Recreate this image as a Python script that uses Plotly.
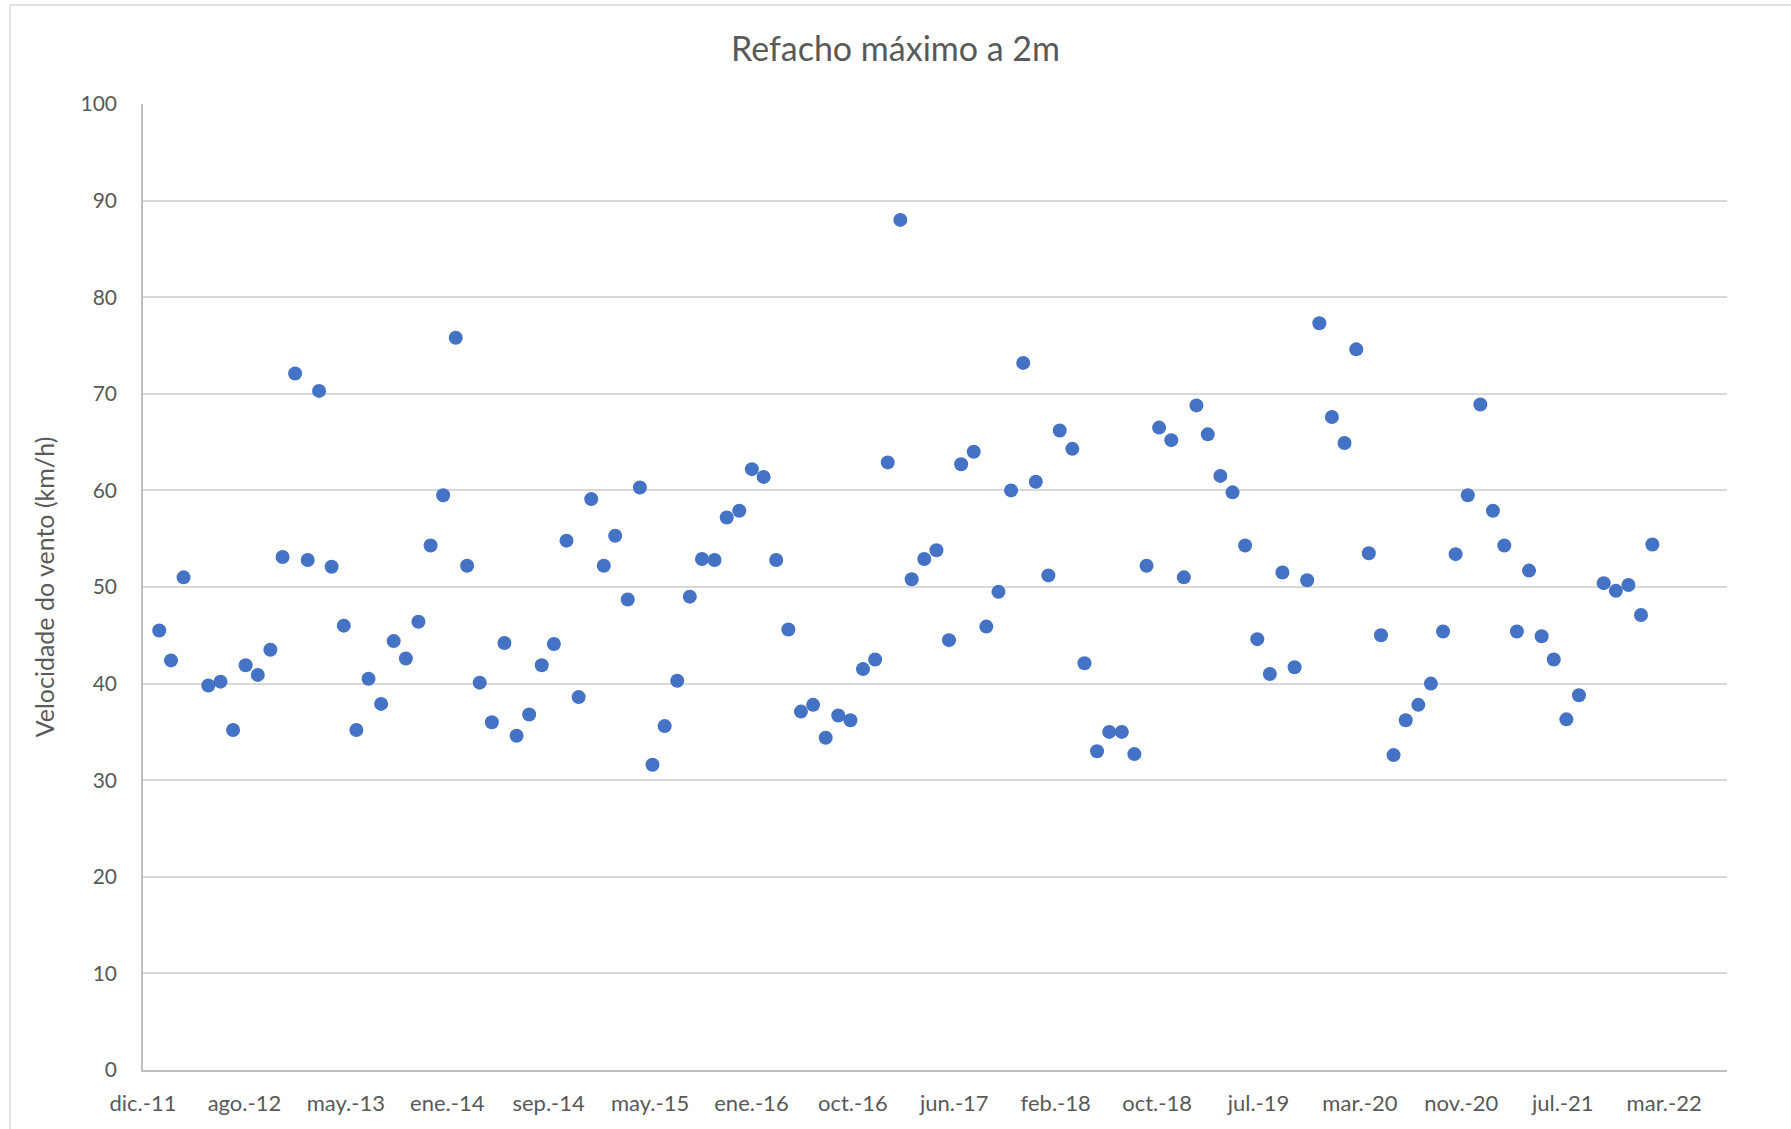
import pandas as pd
import plotly.graph_objects as go

# --- data -------------------------------------------------------------
title_text = "Refacho máximo a 2m"
y_title = "Velocidade do vento (km/h)"

first_month = "2012-01-01"
last_month = "2022-02-01"
missing_months = ["2012-04", "2021-09"]

wind_gust = [
    45.5, 42.4, 51.0, 39.8, 40.2, 35.2, 41.9, 40.9, 43.5, 53.1,
    72.1, 52.8, 70.3, 52.1, 46.0, 35.2, 40.5, 37.9, 44.4, 42.6,
    46.4, 54.3, 59.5, 75.8, 52.2, 40.1, 36.0, 44.2, 34.6, 36.8,
    41.9, 44.1, 54.8, 38.6, 59.1, 52.2, 55.3, 48.7, 60.3, 31.6,
    35.6, 40.3, 49.0, 52.9, 52.8, 57.2, 57.9, 62.2, 61.4, 52.8,
    45.6, 37.1, 37.8, 34.4, 36.7, 36.2, 41.5, 42.5, 62.9, 88.0,
    50.8, 52.9, 53.8, 44.5, 62.7, 64.0, 45.9, 49.5, 60.0, 73.2,
    60.9, 51.2, 66.2, 64.3, 42.1, 33.0, 35.0, 35.0, 32.7, 52.2,
    66.5, 65.2, 51.0, 68.8, 65.8, 61.5, 59.8, 54.3, 44.6, 41.0,
    51.5, 41.7, 50.7, 77.3, 67.6, 64.9, 74.6, 53.5, 45.0, 32.6,
    36.2, 37.8, 40.0, 45.4, 53.4, 59.5, 68.9, 57.9, 54.3, 45.4,
    51.7, 44.9, 42.5, 36.3, 38.8, 50.4, 49.6, 50.2, 47.1, 54.4,
]

tick_labels = ["dic.-11", "ago.-12", "may.-13", "ene.-14", "sep.-14", "may.-15",
               "ene.-16", "oct.-16", "jun.-17", "feb.-18", "oct.-18", "jul.-19",
               "mar.-20", "nov.-20", "jul.-21", "mar.-22"]
y_ticks = [0, 10, 20, 30, 40, 50, 60, 70, 80, 90, 100]

axis_start = "2011-12-22"
tick_step_days = 250
axis_span_days = 3905

# --- build x positions (month-end dates) -------------------------------
months = pd.date_range(first_month, last_month, freq="MS")
months = [m for m in months if m.strftime("%Y-%m") not in missing_months]
dates = [m + pd.offsets.MonthEnd(0) for m in months]

start = pd.Timestamp(axis_start)
tick_vals = [start + pd.Timedelta(days=tick_step_days * k) for k in range(len(tick_labels))]
x_range = [start, start + pd.Timedelta(days=axis_span_days)]

FONT = "Lato, Carlito, Calibri, sans-serif"
GREY_TXT = "#595959"

L, R, T, B = 143, 1727, 104, 1070  # plot area in pixels
def px(x):
    return (x - L) / (R - L)
def py(y):
    return (B - y) / (B - T)

fig = go.Figure()
fig.add_trace(go.Scatter(
    x=dates, y=wind_gust, mode="markers",
    marker=dict(color="#4472C4", size=14, line=dict(width=0)),
    showlegend=False, hoverinfo="x+y",
))

fig.update_layout(
    width=1791, height=1129,
    margin=dict(l=L, r=1791 - R, t=T, b=1129 - B),
    paper_bgcolor="white", plot_bgcolor="white",
    title=dict(text=title_text, x=0.5, xanchor="center", y=1 - 49 / 1129, yanchor="middle",
               font=dict(family=FONT, size=34, color=GREY_TXT)),
    font=dict(family=FONT, color=GREY_TXT),
    xaxis=dict(
        type="date", range=x_range, tickmode="array", tickvals=tick_vals, ticktext=tick_labels,
        showgrid=False, zeroline=False, showline=True, linecolor="#bfbfbf", linewidth=1.5,
        ticks="", tickfont=dict(family=FONT, size=22, color=GREY_TXT), ticklabelstandoff=13,
    ),
    yaxis=dict(
        range=[0, 100], tickmode="array", tickvals=y_ticks,
        showgrid=True, gridcolor="#d9d9d9", gridwidth=1.5, zeroline=False,
        showline=True, linecolor="#bfbfbf", linewidth=1.5,
        ticks="", tickfont=dict(family=FONT, size=21, color=GREY_TXT), ticklabelstandoff=20,
        title=dict(text=y_title, font=dict(family=FONT, size=25, color=GREY_TXT), standoff=19),
    ),
    shapes=[
        dict(type="line", xref="paper", yref="paper", x0=px(10), x1=px(1791), y0=py(5), y1=py(5),
             line=dict(color="#d9d9d9", width=1.5), layer="below"),
        dict(type="line", xref="paper", yref="paper", x0=px(10), x1=px(10), y0=py(5), y1=py(1129),
             line=dict(color="#d9d9d9", width=1.5), layer="below"),
    ],
)

fig.write_html("out.html", config={"displayModeBar": False},
               post_script="document.body.style.margin='0';document.body.style.overflow='hidden';")
